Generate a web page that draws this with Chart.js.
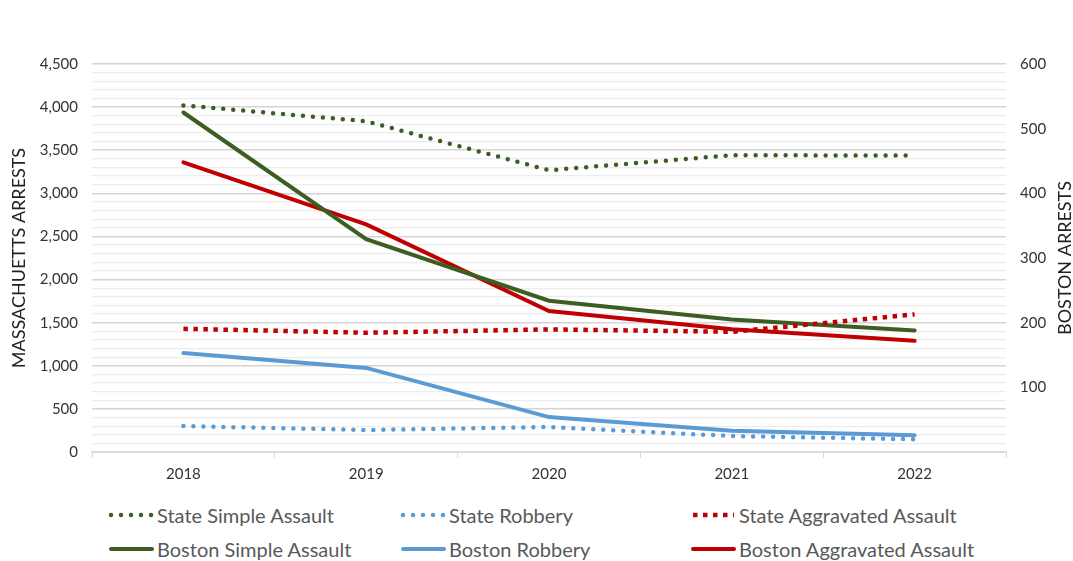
<!DOCTYPE html>
<html>
<head>
<meta charset="utf-8">
<script src="https://cdn.jsdelivr.net/npm/chart.js@4"></script>
<style>
  html, body { margin: 0; padding: 0; background: #fff; }
  body { width: 1073px; height: 561px; position: relative; overflow: hidden; font-family: Lato, "Noto Sans", sans-serif; }
  #wrap { position: absolute; left: 0; top: 0; width: 1073px; height: 490px; }
  #legend { position: absolute; left: 0; top: 500px; width: 1073px; height: 61px; }
  .legend-item { position: absolute; display: flex; align-items: center; color: #595959; font-size: 20px; white-space: nowrap; }
  .legend-item canvas { margin-right: 3px; }
</style>
</head>
<body>
<div id="wrap"><canvas id="arrestChart"></canvas></div>
<div id="legend"></div>
<script>
// datos
const years = ['2018', '2019', '2020', '2021', '2022'];

// eje izquierdo (estado)
const stateSimpleAssault = [4020, 3836, 3268, 3442, 3438];
const stateRobbery = [301, 255, 290, 185, 147];
const stateAggravatedAssault = [1429, 1383, 1422, 1394, 1596];

// eje derecho (Boston)
const bostonSimpleAssault = [525, 329, 234, 205, 188];
const bostonRobbery = [153, 130, 54, 33, 26];
const bostonAggravatedAssault = [448, 352, 218, 190, 172];

const GREEN = '#3d5e22';
const BLUE = '#5b9bd5';
const RED = '#c00000';

const datasets = [
    { label: 'State Simple Assault', data: stateSimpleAssault, yAxisID: 'y', borderColor: GREEN, borderWidth: 4.5, borderDash: [0, 10], borderCapStyle: 'round' },
    { label: 'State Robbery', data: stateRobbery, yAxisID: 'y', borderColor: BLUE, borderWidth: 4.5, borderDash: [0, 10], borderCapStyle: 'round' },
    { label: 'State Aggravated Assault', data: stateAggravatedAssault, yAxisID: 'y', borderColor: RED, borderWidth: 4.5, borderDash: [4.5, 5.5], borderCapStyle: 'butt' },
    { label: 'Boston Simple Assault', data: bostonSimpleAssault, yAxisID: 'y1', borderColor: GREEN, borderWidth: 4, borderCapStyle: 'round' },
    { label: 'Boston Robbery', data: bostonRobbery, yAxisID: 'y1', borderColor: BLUE, borderWidth: 4, borderCapStyle: 'round' },
    { label: 'Boston Aggravated Assault', data: bostonAggravatedAssault, yAxisID: 'y1', borderColor: RED, borderWidth: 4, borderCapStyle: 'round' }
];
datasets.forEach(d => { d.pointRadius = 0; d.fill = false; d.tension = 0; d.backgroundColor = d.borderColor; });

// título del eje derecho leído de abajo hacia arriba, como en el original
const rightTitle = {
    id: 'rightTitle',
    afterDraw(chart) {
        const c = chart.ctx;
        const area = chart.chartArea;
        c.save();
        c.translate(1065, (area.top + area.bottom) / 2);
        c.rotate(-Math.PI / 2);
        c.fillStyle = '#222';
        c.font = '18px Lato';
        c.textAlign = 'center';
        c.textBaseline = 'middle';
        c.fillText('BOSTON ARRESTS', 0, 0);
        c.restore();
    }
};

const ctx = document.getElementById('arrestChart').getContext('2d');
const myChart = new Chart(ctx, {
    type: 'line',
    data: { labels: years, datasets: datasets },
    options: {
        responsive: true,
        maintainAspectRatio: false,
        animation: false,
        layout: { padding: { top: 64, left: 8, right: 6, bottom: 0 } },
        plugins: {
            legend: { display: false },
            tooltip: { enabled: false }
        },
        scales: {
            x: {
                offset: true,
                grid: { display: true, drawOnChartArea: false, offset: true, tickLength: 6, color: '#d9d9d9' },
                border: { color: '#d9d9d9', width: 1.5 },
                ticks: { color: '#333', font: { family: 'Lato', size: 15 }, padding: 7 }
            },
            y: {
                position: 'left',
                min: 0, max: 4500,
                afterFit: s => { s.width = 84; },
                title: { display: true, text: 'MASSACHUETTS ARRESTS', color: '#222', font: { family: 'Lato', size: 18 }, padding: 0 },
                ticks: {
                    stepSize: 100,
                    autoSkip: false,
                    color: '#333',
                    font: { family: 'Lato', size: 15 },
                    padding: 14,
                    callback: v => v % 500 === 0 ? v.toLocaleString('en-US') : ''
                },
                grid: {
                    drawTicks: false,
                    color: c => c.tick.value % 500 === 0 ? '#d4d4d4' : '#ececec',
                    lineWidth: c => c.tick.value % 500 === 0 ? 1.5 : 1.2
                },
                border: { display: false }
            },
            y1: {
                position: 'right',
                min: 0, max: 600,
                afterFit: s => { s.width = 61; },
                ticks: {
                    stepSize: 100,
                    autoSkip: false,
                    color: '#333',
                    font: { family: 'Lato', size: 15 },
                    padding: 14,
                    callback: v => v === 0 ? '' : v
                },
                grid: { drawOnChartArea: false, drawTicks: false },
                border: { display: false }
            }
        }
    },
    plugins: [rightTitle]
});

// leyenda en HTML, tres columnas
function generateHtmlLegend(chart) {
    const legendContainer = document.getElementById('legend');
    legendContainer.innerHTML = '';
    const cols = [108, 400, 690];
    const rows = [2, 36];
    chart.data.datasets.forEach((ds, i) => {
        const div = document.createElement('div');
        div.classList.add('legend-item');
        div.style.left = cols[i % 3] + 'px';
        div.style.top = rows[Math.floor(i / 3)] + 'px';
        const sample = document.createElement('canvas');
        sample.width = 46; sample.height = 26;
        const g = sample.getContext('2d');
        g.strokeStyle = ds.borderColor;
        g.lineWidth = ds.borderWidth;
        g.lineCap = ds.borderCapStyle || 'butt';
        g.setLineDash(ds.borderDash || []);
        g.beginPath();
        g.moveTo(3, 13);
        g.lineTo(44, 13);
        g.stroke();
        div.appendChild(sample);
        div.appendChild(document.createTextNode(ds.label));
        legendContainer.appendChild(div);
    });
}
generateHtmlLegend(myChart);
</script>
</body>
</html>
